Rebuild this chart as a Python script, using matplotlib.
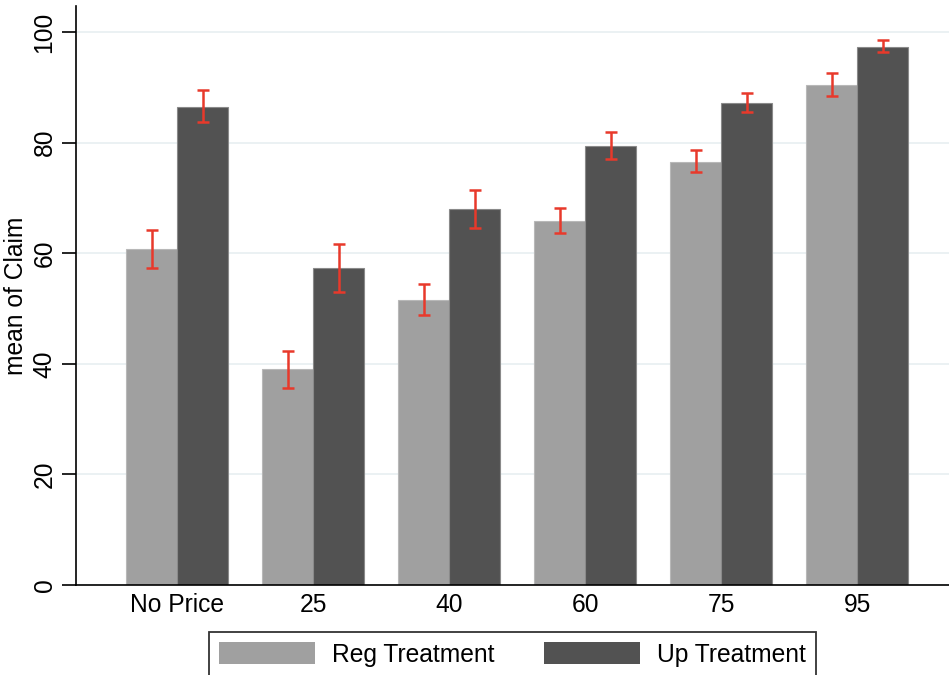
import numpy as np
import matplotlib
matplotlib.use("Agg")
import matplotlib.pyplot as plt

plt.rcParams['font.family'] = ['Liberation Sans', 'DejaVu Sans']

# data
categories = ['No Price', '25', '40', '60', '75', '95']
reg_mean = [60.7, 39.0, 51.6, 65.9, 76.5, 90.5]
reg_lo = [57.3, 35.6, 48.8, 63.7, 74.6, 88.5]
reg_hi = [64.2, 42.3, 54.4, 68.2, 78.7, 92.6]
up_mean = [86.5, 57.3, 68.0, 79.4, 87.2, 97.3]
up_lo = [83.8, 52.9, 64.6, 77.1, 85.6, 96.4]
up_hi = [89.5, 61.6, 71.4, 81.9, 89.0, 98.5]
yticks = [0, 20, 40, 60, 80, 100]

reg_color = '#a0a0a0'
up_color = '#525252'
err_color = '#e8392b'
fs = 17.7

fig = plt.figure(figsize=(9.49, 6.75), dpi=100)
# axes runs past the right edge of the figure, as in the reference
ax = fig.add_axes([76 / 949, 1 - 585 / 675, 882.6 / 949, 579 / 675])

x = np.arange(len(categories))
w = 0.375

ax.bar(x - w / 2, reg_mean, w, color=reg_color, edgecolor='#b8b8b8',
       linewidth=0.8, label='Reg Treatment', zorder=2)
ax.bar(x + w / 2, up_mean, w, color=up_color, edgecolor='#8a8a8a',
       linewidth=0.8, label='Up Treatment', zorder=2)

# confidence intervals
reg_err = [np.array(reg_mean) - np.array(reg_lo), np.array(reg_hi) - np.array(reg_mean)]
up_err = [np.array(up_mean) - np.array(up_lo), np.array(up_hi) - np.array(up_mean)]
ax.errorbar(x - w / 2, reg_mean, yerr=reg_err, fmt='none', ecolor=err_color,
            elinewidth=1.8, capsize=4.6, capthick=1.8, zorder=3)
ax.errorbar(x + w / 2, up_mean, yerr=up_err, fmt='none', ecolor=err_color,
            elinewidth=1.8, capsize=4.6, capthick=1.8, zorder=3)

ax.set_xlim(-0.745, len(categories) - 1 + 0.745)
ax.set_ylim(0, 104.7)
ax.set_xticks(x)
ax.set_xticklabels(categories, fontsize=fs)
ax.set_yticks(yticks)
ax.set_yticklabels([str(t) for t in yticks], fontsize=fs, rotation=90, va='center')
ax.tick_params(axis='x', length=0, pad=6)
ax.tick_params(axis='y', length=10, width=1.2, pad=4)
ax.set_ylabel('mean of Claim', fontsize=fs, labelpad=3)

ax.grid(axis='y', color='#e9f0f2', linewidth=1.3, zorder=0)
ax.set_axisbelow(True)
for s in ['top', 'right']:
    ax.spines[s].set_visible(False)
for s in ['left', 'bottom']:
    ax.spines[s].set_linewidth(1.2)

leg = fig.legend(loc='upper left', bbox_to_anchor=(209 / 949, 1 - 632 / 675),
                 ncol=2, fontsize=fs, frameon=True, fancybox=False,
                 handlelength=3.9, handleheight=1.0, handletextpad=0.7,
                 columnspacing=2.0, borderpad=0.42, borderaxespad=0)
leg.get_frame().set_edgecolor('black')
leg.get_frame().set_linewidth(1.3)
for h in leg.legend_handles:
    h.set_edgecolor('none')

fig.savefig('out.png', dpi=100)
